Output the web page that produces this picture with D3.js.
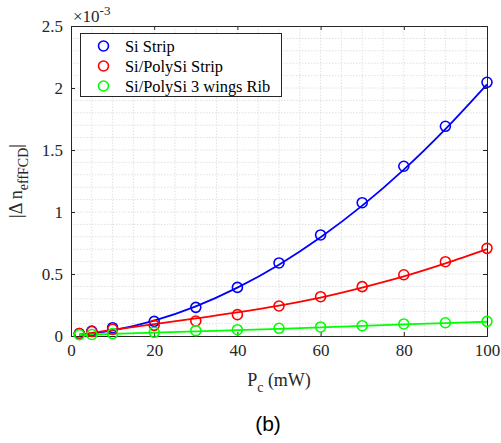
<!DOCTYPE html>
<html>
<head>
<meta charset="utf-8">
<script src="https://cdn.jsdelivr.net/npm/d3@7"></script>
<style>
  html, body { margin: 0; padding: 0; background: #fff; }
  svg { display: block; }
</style>
</head>
<body>
<div id="chart"></div>
<script>
// Measured points (x in mW, y in units of 1e-3)
const powerMeasured = [2, 5, 10, 20, 30, 40, 50, 60, 70, 80, 90, 100];
const siStrip       = [0.02, 0.04, 0.067, 0.118, 0.231, 0.392, 0.589, 0.815, 1.075, 1.369, 1.691, 2.046];
const polyStrip     = [0.02, 0.036, 0.054, 0.086, 0.121, 0.172, 0.242, 0.317, 0.398, 0.494, 0.599, 0.707];
const polyRib       = [0.01, 0.012, 0.019, 0.03, 0.043, 0.051, 0.062, 0.073, 0.083, 0.097, 0.107, 0.118];

// Fitted trend curves
const powerFit      = [2, 10, 20, 30, 40, 50, 60, 70, 80, 90, 100];
const siStripFit    = [0.006, 0.045, 0.124, 0.239, 0.39, 0.575, 0.796, 1.051, 1.342, 1.669, 2.03];
const polyStripFit  = [0.012, 0.05, 0.095, 0.142, 0.19, 0.245, 0.31, 0.39, 0.48, 0.585, 0.70];
const polyRibFit    = [0.008, 0.017, 0.028, 0.038, 0.047, 0.058, 0.07, 0.081, 0.093, 0.104, 0.115];

const seriesNames   = ["Si Strip", "Si/PolySi Strip", "Si/PolySi 3 wings Rib"];
const seriesColors  = ["#0000ff", "#ff0000", "#00ff00"];
const xTicks = [0, 20, 40, 60, 80, 100];
const yTicks = [0, 0.5, 1, 1.5, 2, 2.5];

const W = 501, H = 443;
const m = { left: 71, right: 14, top: 26, bottom: 107 };
const axisColor = "#262626";
const serif = "'Liberation Serif', 'Times New Roman', serif";

const svg = d3.select("#chart").append("svg").attr("width", W).attr("height", H);

const x = d3.scaleLinear().domain([0, 100]).range([m.left, W - m.right]);
const y = d3.scaleLinear().domain([0, 2.5]).range([H - m.bottom, m.top]);

// Dotted grid (minor + major)
const grid = svg.append("g").attr("stroke", "#d9d9d9").attr("stroke-width", 0.8).attr("stroke-dasharray", "1.5,1.5");
grid.selectAll("line.gx").data(d3.range(5, 100, 5)).join("line")
  .attr("x1", d => x(d)).attr("x2", d => x(d)).attr("y1", y(0)).attr("y2", y(2.5));
grid.selectAll("line.gy").data(d3.range(1, 25).map(i => i / 10)).join("line")
  .attr("y1", d => y(d)).attr("y2", d => y(d)).attr("x1", x(0)).attr("x2", x(100));

// Axes with inward ticks
const tickLen = 4;
const xAxisB = d3.axisBottom(x).tickValues(xTicks).tickSize(-tickLen).tickPadding(8);
const yAxisL = d3.axisLeft(y).tickValues(yTicks).tickSize(-tickLen).tickPadding(8).tickFormat(d => d === 0 ? "0" : d3.format("")(d));
const xAxisT = d3.axisTop(x).tickValues(xTicks).tickSize(-tickLen).tickFormat("");
const yAxisR = d3.axisRight(y).tickValues(yTicks).tickSize(-tickLen).tickFormat("");

function styleAxis(g) {
  g.select(".domain").attr("stroke", axisColor).attr("stroke-width", 1);
  g.selectAll(".tick line").attr("stroke", axisColor).attr("stroke-width", 1);
  g.selectAll(".tick text").attr("fill", axisColor).style("font-family", serif).style("font-size", "17px");
}
svg.append("g").attr("transform", `translate(0,${y(0)})`).call(xAxisB).call(styleAxis);
svg.append("g").attr("transform", `translate(${x(0)},0)`).call(yAxisL).call(styleAxis);
svg.append("g").attr("transform", `translate(0,${y(2.5)})`).call(xAxisT).call(styleAxis);
svg.append("g").attr("transform", `translate(${x(100)},0)`).call(yAxisR).call(styleAxis);

// Fit curves
const measured = [siStrip, polyStrip, polyRib];
const fits = [siStripFit, polyStripFit, polyRibFit];
const line = d3.line().x(d => x(d[0])).y(d => y(d[1])).curve(d3.curveMonotoneX);
fits.forEach((vals, i) => {
  svg.append("path")
    .datum(powerFit.map((p, j) => [p, vals[j]]))
    .attr("d", line)
    .attr("fill", "none")
    .attr("stroke", seriesColors[i])
    .attr("stroke-width", 1.8);
});

// Measured markers
measured.forEach((vals, i) => {
  svg.append("g").selectAll("circle")
    .data(powerMeasured.map((p, j) => [p, vals[j]]))
    .join("circle")
    .attr("cx", d => x(d[0])).attr("cy", d => y(d[1]))
    .attr("r", 5)
    .attr("fill", "none")
    .attr("stroke", seriesColors[i])
    .attr("stroke-width", 1.6);
});

// Exponent multiplier
const mult = svg.append("text").attr("x", 73).attr("y", 22)
  .attr("fill", axisColor).style("font-family", serif).style("font-size", "17px");
mult.append("tspan").text("×10");
mult.append("tspan").attr("dy", -7).style("font-size", "13px").text("-3");

// Legend
const lg = svg.append("g");
lg.append("rect").attr("x", 80.5).attr("y", 33.5).attr("width", 201).attr("height", 63)
  .attr("fill", "#fff").attr("stroke", axisColor).attr("stroke-width", 1);
seriesNames.forEach((name, i) => {
  const cy = 46 + i * 20;
  lg.append("circle").attr("cx", 103.5).attr("cy", cy).attr("r", 5)
    .attr("fill", "none").attr("stroke", seriesColors[i]).attr("stroke-width", 1.6);
  lg.append("text").attr("x", 125).attr("y", cy + 5.5).text(name)
    .attr("fill", "#000").style("font-family", serif).style("font-size", "16.4px");
});

// Axis titles
const xl = svg.append("text").attr("x", x(50)).attr("y", 386).attr("text-anchor", "middle")
  .attr("fill", axisColor).style("font-family", serif).style("font-size", "18px");
xl.append("tspan").text("P");
xl.append("tspan").attr("dy", 6).style("font-size", "14px").text("c");
xl.append("tspan").attr("dy", -6).text(" (mW)");

const yl = svg.append("text")
  .attr("transform", `translate(22,${(y(0) + y(2.5)) / 2}) rotate(-90)`)
  .attr("text-anchor", "middle")
  .attr("fill", axisColor).style("font-family", serif).style("font-size", "18px");
yl.append("tspan").text("|Δ n");
yl.append("tspan").attr("dy", 6).style("font-size", "14px").text("effFCD");
yl.append("tspan").attr("dy", -6).text("|");

// Panel label
svg.append("text").attr("x", 268).attr("y", 431).attr("text-anchor", "middle")
  .attr("fill", "#000").style("font-family", "'Liberation Sans', Arial, sans-serif").style("font-size", "21px")
  .text("(b)");
</script>
</body>
</html>
